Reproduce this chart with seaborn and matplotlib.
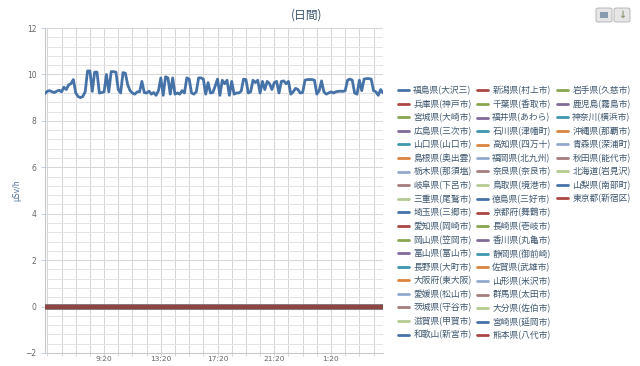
import matplotlib
matplotlib.use("Agg")
import numpy as np
import pandas as pd
import seaborn as sns
import matplotlib.pyplot as plt
import matplotlib.dates as mdates
from matplotlib.lines import Line2D
from matplotlib.patches import FancyBboxPatch, Rectangle
from matplotlib.ticker import FixedLocator, FuncFormatter, MultipleLocator

# ---------------- data ----------------
stations = [
    "福島県(大沢三)", "兵庫県(神戸市)", "宮城県(大崎市)", "広島県(三次市)", "山口県(山口市)",
    "島根県(奥出雲)", "栃木県(那須塩)", "岐阜県(下呂市)", "三重県(尾鷲市)", "埼玉県(三郷市)",
    "愛知県(岡崎市)", "岡山県(笠岡市)", "富山県(富山市)", "長野県(大町市)", "大阪府(東大阪)",
    "愛媛県(松山市)", "茨城県(守谷市)", "滋賀県(甲賀市)", "和歌山(新宮市)",
    "新潟県(村上市)", "千葉県(香取市)", "福井県(あわら)", "石川県(津幡町)", "高知県(四万十)",
    "福岡県(北九州)", "奈良県(奈良市)", "鳥取県(境港市)", "徳島県(三好市)", "京都府(舞鶴市)",
    "長崎県(壱岐市)", "香川県(丸亀市)", "静岡県(御前崎)", "佐賀県(武雄市)", "山形県(米沢市)",
    "群馬県(太田市)", "大分県(佐伯市)", "宮崎県(延岡市)", "熊本県(八代市)",
    "岩手県(久慈市)", "鹿児島(霧島市)", "神奈川(横浜市)", "沖縄県(那覇市)", "青森県(深浦町)",
    "秋田県(能代市)", "北海道(岩見沢)", "山梨県(南部町)", "東京都(新宿区)",
]
legend_columns = [19, 19, 9]

fukushima = [
    9.17, 9.28, 9.30, 9.25, 9.22, 9.28, 9.32, 9.25, 9.45, 9.35,
    9.55, 9.60, 9.78, 9.20, 9.05, 9.00, 9.05, 9.25, 10.15, 10.15,
    9.27, 10.10, 10.10, 9.20, 9.22, 9.25, 10.00, 9.25, 10.12, 10.12,
    10.10, 9.35, 9.20, 10.08, 10.05, 9.55, 9.30, 9.20, 9.15, 9.25,
    9.25, 9.70, 9.22, 9.20, 9.28, 9.15, 9.22, 9.10, 9.30, 9.85,
    9.10, 9.90, 9.85, 9.15, 9.85, 9.15, 9.20, 9.15, 9.30, 9.20,
    9.85, 9.80, 9.20, 9.15, 9.25, 9.85, 9.85, 9.80, 9.15, 9.65,
    9.20, 9.22, 9.50, 9.80, 9.10, 9.75, 9.60, 9.75, 9.10, 9.70,
    9.15, 9.20, 9.20, 9.28, 9.80, 9.78, 9.20, 9.25, 9.75, 9.65,
    9.75, 9.20, 9.70, 9.35, 9.70, 9.60, 9.35, 9.65, 9.70, 9.20,
    9.70, 9.72, 9.60, 9.70, 9.15, 9.25, 9.40, 9.35, 9.20, 9.22,
    9.75, 9.78, 9.78, 9.78, 9.75, 9.15, 9.30, 9.72, 9.25, 9.15,
    9.20, 9.25, 9.20, 9.25, 9.27, 9.28, 9.27, 9.30, 9.75, 9.80,
    9.75, 9.20, 9.15, 9.75, 9.30, 9.80, 9.82, 9.82, 9.80, 9.30,
    9.25, 9.10, 9.35, 9.20,
]
other_stations_value = 0.0   # all other stations read as 0 on the chart

start_time = "2013-05-20 05:10"
n_points = len(fukushima)
labeled_ticks = ["09:20", "13:20", "17:20", "21:20", "01:20"]

palette = ['#4572A7', '#AA4643', '#89A54E', '#80699B', '#3D96AE',
           '#DB843D', '#92A8CD', '#A47D7C', '#B5CA92']

# ---------------- build table ----------------
times = pd.date_range(start_time, periods=n_points, freq="10min")
frames = []
for i, st in enumerate(stations):
    vals = fukushima if i == 0 else [other_stations_value] * n_points
    frames.append(pd.DataFrame({"time": times, "value": vals, "station": st}))
df = pd.concat(frames, ignore_index=True)
colors = {st: palette[i % len(palette)] for i, st in enumerate(stations)}

# ---------------- figure ----------------
sns.set_style("white")
plt.rcParams["font.family"] = ["DejaVu Sans"]
cjk = ["Noto Sans CJK JP", "DejaVu Sans"]

fig = plt.figure(figsize=(6.4, 3.66), dpi=100)
fig.patch.set_facecolor("white")
ax = fig.add_axes([45 / 640, 1 - 353 / 366, (383 - 45) / 640, (353 - 28) / 366])

# blue series
sns.lineplot(data=df[df.station == stations[0]], x="time", y="value",
             color=colors[stations[0]], linewidth=2.0, ax=ax, legend=False,
             estimator=None, zorder=5)
# the rest (all at zero), drawn in series order
for st in stations[1:]:
    sub = df[df.station == st]
    sns.lineplot(data=sub, x="time", y="value", color=colors[st], linewidth=3.2,
                 ax=ax, legend=False, estimator=None, zorder=4)
for ln in ax.lines[1:]:
    ln.set_solid_capstyle("butt")
# darker shading seen on the stacked zero lines
ax.lines[-1].set_color("#8f4444")

ax.set_xlim(times[0], times[-1])
ax.set_ylim(-2, 12)

# y axis ticks / grid
ax.yaxis.set_major_locator(MultipleLocator(2))
ax.yaxis.set_minor_locator(MultipleLocator(0.4))
ax.grid(True, which="major", axis="y", color="#d6d6d6", linewidth=0.75)
ax.grid(True, which="minor", axis="y", color="#e4e4e4", linewidth=0.7)

# x axis ticks / grid
base_day = pd.Timestamp(start_time).normalize()
hour_ticks = pd.date_range(base_day + pd.Timedelta(hours=5, minutes=20),
                           times[-1], freq="1h")
major = []
for t in labeled_ticks:
    h, m = map(int, t.split(":"))
    ts = base_day + pd.Timedelta(hours=h, minutes=m)
    if ts < times[0]:
        ts += pd.Timedelta(days=1)
    major.append(mdates.date2num(ts))
ax.xaxis.set_major_locator(FixedLocator(major))
ax.xaxis.set_minor_locator(FixedLocator(mdates.date2num(hour_ticks)))
ax.xaxis.set_major_formatter(FuncFormatter(
    lambda v, p: f"{mdates.num2date(v).hour}:{mdates.num2date(v).minute:02d}"))
ax.grid(True, which="both", axis="x", color="#d6d6d6", linewidth=0.75)

ax.tick_params(axis="y", which="major", length=3, width=0.7, color="#c0d0e0",
               labelsize=5.5, labelcolor="#666666", pad=3, left=True)
ax.tick_params(axis="y", which="minor", length=0)
ax.tick_params(axis="x", which="both", length=2, width=0.7, color="#d6d6d6",
               labelsize=5.3, labelcolor="#666666", pad=0.5, bottom=True)
ax.set_xlabel("")
ax.set_ylabel("μSv/h", color="#4d6f99", fontsize=5.5, labelpad=3)

for side in ["top", "right"]:
    ax.spines[side].set_visible(False)
for side in ["left", "bottom"]:
    ax.spines[side].set_color("#c8c8c8")
    ax.spines[side].set_linewidth(0.75)
ax.set_axisbelow(True)

# title
fig.text(307 / 640, 1 - 15 / 366, "(日間)", ha="center", va="center",
         fontsize=8.5, color="#3E576F", family=cjk)

# legend: three columns
start = 0
col_x = [398, 477, 557]
for c, n in enumerate(legend_columns):
    names = stations[start:start + n]
    handles = [Line2D([], [], color=colors[s], linewidth=2.0) for s in names]
    leg = fig.legend(handles, names, loc="upper left",
                     bbox_to_anchor=(col_x[c] / 640, 1 - 86 / 366),
                     frameon=False, handlelength=1.25,
                     handletextpad=0.5, labelspacing=0.5, borderpad=0,
                     borderaxespad=0, prop={"family": cjk, "size": 6.3})
    for t in leg.get_texts():
        t.set_color("#3E576F")
    start += n

# export buttons
for bx in (596, 614):
    fig.patches.append(FancyBboxPatch((bx / 640, 1 - 22 / 366), 16 / 640, 14 / 366,
                                      boxstyle="round,pad=0,rounding_size=0.004",
                                      transform=fig.transFigure, facecolor="#e6e6e6",
                                      edgecolor="#b0b0b0", linewidth=0.6))
fig.patches.append(Rectangle((600 / 640, 1 - 18 / 366), 8 / 640, 6 / 366,
                             transform=fig.transFigure, facecolor="#8a9ab0",
                             edgecolor="none"))
fig.text(622 / 640, 1 - 15 / 366, "↓", ha="center", va="center", fontsize=7,
         color="#8a9a70", fontweight="bold")

fig.savefig("out.png", dpi=100, facecolor="white")
